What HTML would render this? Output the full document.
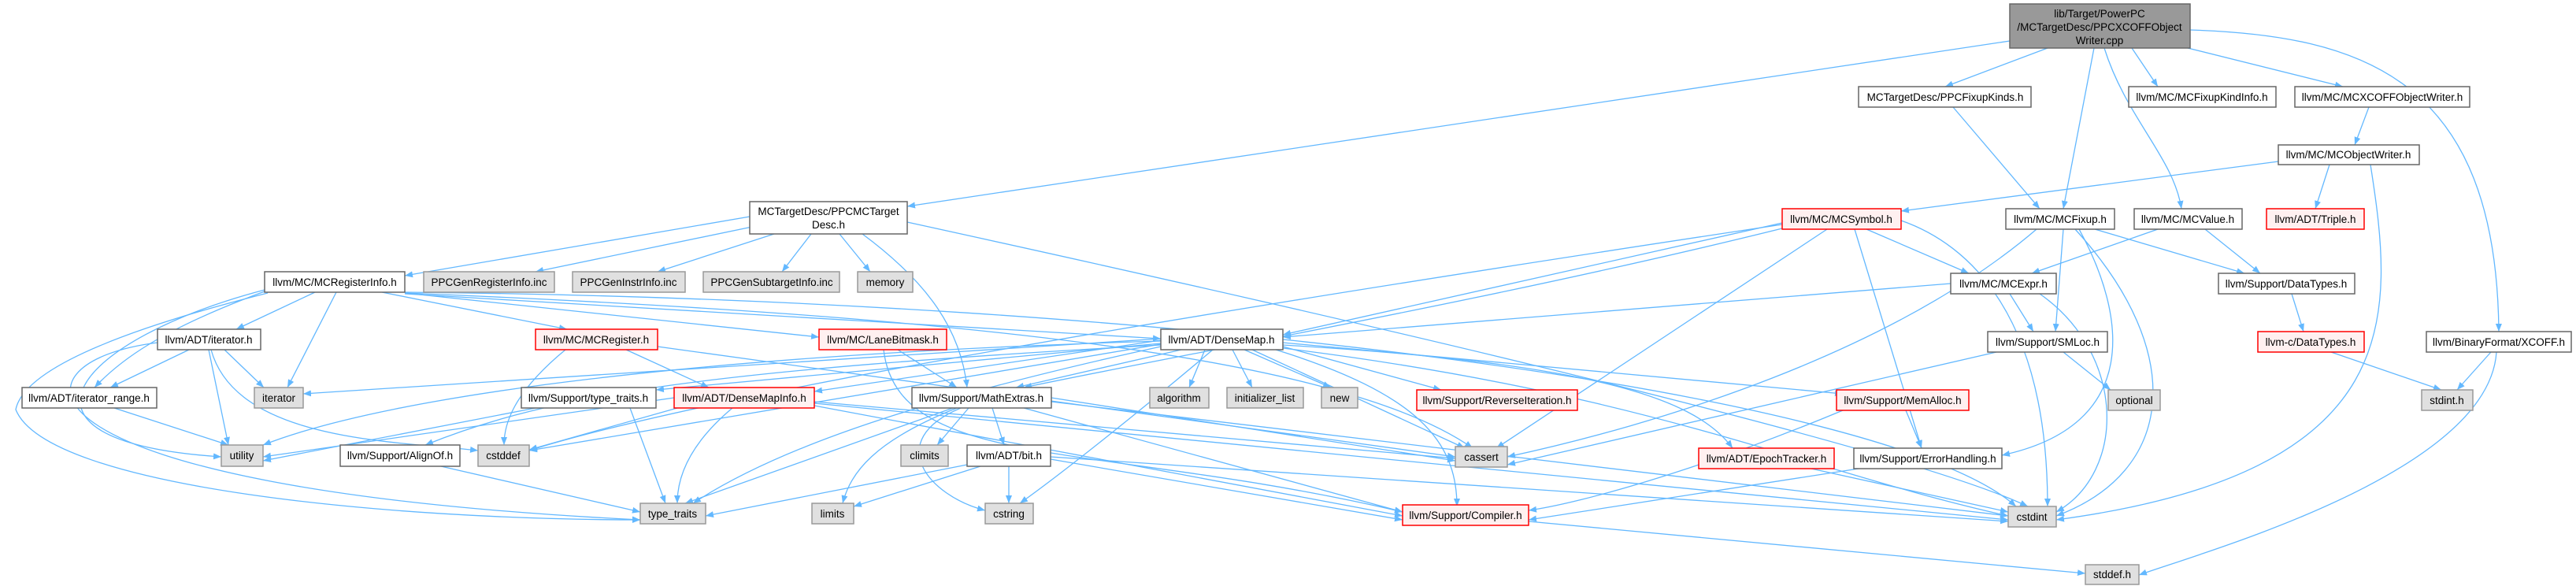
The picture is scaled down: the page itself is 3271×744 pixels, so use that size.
<!DOCTYPE html>
<html><head><meta charset="utf-8"><style>
html,body{margin:0;padding:0;background:#fff;}
svg{display:block;}
text{font-family:"Liberation Sans",Arial,sans-serif;font-size:13.5px;fill:#000;}
.w{fill:#fff;stroke:#666;stroke-width:1.5}
.g{fill:#e0e0e0;stroke:#999;stroke-width:1.5}
.r{fill:#fff0f0;stroke:#f00;stroke-width:1.5}
.m{fill:#999;stroke:#666;stroke-width:1.5}
path.e{fill:none;stroke:#63b8ff;stroke-width:1.3;marker-end:url(#a)}
</style></head><body>
<svg width="3271" height="744" viewBox="0 0 3271 744" xmlns="http://www.w3.org/2000/svg">
<defs><marker id="a" viewBox="0 0 10 10" refX="10" refY="5" markerWidth="10" markerHeight="10" markerUnits="userSpaceOnUse" orient="auto"><path d="M0,1 L10,5 L0,9 z" fill="#63b8ff"/></marker></defs>
<g>
<path class="e" d="M2552,52 L1152,262"/>
<path class="e" d="M2600,61 L2470,110"/>
<path class="e" d="M2659,61 L2620,265"/>
<path class="e" d="M2707,61 L2740,110"/>
<path class="e" d="M2672,61 C2700,150 2760,200 2770,265"/>
<path class="e" d="M2778,61 L2975,110"/>
<path class="e" d="M2781,38 C3000,45 3170,100 3173,421"/>
<path class="e" d="M2480,136 L2590,265"/>
<path class="e" d="M3008,136 L2990,184"/>
<path class="e" d="M2893,205 L2414,268"/>
<path class="e" d="M2958,209 L2940,265"/>
<path class="e" d="M3010,209 C3040,400 3060,600 2611,660"/>
<path class="e" d="M2263,283 L1629,425"/>
<path class="e" d="M2263,290 C1900,380 1500,450 1300,492"/>
<path class="e" d="M2370,291 L2500,347"/>
<path class="e" d="M2320,291 L1900,569"/>
<path class="e" d="M2355,291 L2440,569"/>
<path class="e" d="M2414,280 C2500,310 2600,400 2600,643"/>
<path class="e" d="M2263,285 C1500,400 900,500 672,572"/>
<path class="e" d="M2586,291 C2400,450 2100,540 1914,580"/>
<path class="e" d="M2620,291 L2610,421"/>
<path class="e" d="M2660,291 L2850,347"/>
<path class="e" d="M2640,291 C2700,400 2720,540 2542,578"/>
<path class="e" d="M2635,291 C2780,450 2760,600 2611,655"/>
<path class="e" d="M2740,291 L2580,347"/>
<path class="e" d="M2800,291 L2870,347"/>
<path class="e" d="M2477,360 L1629,428"/>
<path class="e" d="M2552,373 L2582,421"/>
<path class="e" d="M2590,373 C2700,450 2700,600 2611,650"/>
<path class="e" d="M2910,373 L2925,421"/>
<path class="e" d="M2960,447 L3100,495"/>
<path class="e" d="M3163,447 L3120,495"/>
<path class="e" d="M3170,447 C3160,600 2800,700 2716,730"/>
<path class="e" d="M2620,447 L2680,495"/>
<path class="e" d="M2535,447 L1914,590"/>
<path class="e" d="M2420,521 L2440,569"/>
<path class="e" d="M2340,521 C2150,600 2000,640 1941,648"/>
<path class="e" d="M2360,595 L1941,660"/>
<path class="e" d="M2300,595 L2550,650"/>
<path class="e" d="M1941,662 L2648,728"/>
<path class="e" d="M952,275 L514,350"/>
<path class="e" d="M955,288 L680,345"/>
<path class="e" d="M983,297 L835,345"/>
<path class="e" d="M1030,297 L993,345"/>
<path class="e" d="M1066,297 L1105,345"/>
<path class="e" d="M1095,297 C1180,360 1220,420 1228,492"/>
<path class="e" d="M1152,282 C1600,380 2400,560 2575,643"/>
<path class="e" d="M400,371 L300,418"/>
<path class="e" d="M427,371 L365,492"/>
<path class="e" d="M336,370 C200,420 150,460 120,492"/>
<path class="e" d="M336,368 C100,430 -20,560 281,580"/>
<path class="e" d="M340,372 C150,420 30,470 20,520 C60,620 500,660 813,660"/>
<path class="e" d="M485,371 L720,418"/>
<path class="e" d="M514,372 L1040,428"/>
<path class="e" d="M514,373 L1474,430"/>
<path class="e" d="M514,372 C1200,400 1700,450 1870,569"/>
<path class="e" d="M514,371 C1500,380 2400,500 2560,643"/>
<path class="e" d="M240,444 L140,492"/>
<path class="e" d="M285,444 L335,492"/>
<path class="e" d="M265,444 L290,565"/>
<path class="e" d="M268,444 C300,560 500,560 607,572"/>
<path class="e" d="M200,435 C0,460 0,620 813,660"/>
<path class="e" d="M145,518 L290,565"/>
<path class="e" d="M795,444 L900,492"/>
<path class="e" d="M718,444 C650,500 640,540 640,565"/>
<path class="e" d="M835,440 L1848,580"/>
<path class="e" d="M1140,444 L1215,492"/>
<path class="e" d="M1122,444 C1140,600 1400,560 1781,650"/>
<path class="e" d="M1474,432 L1034,497"/>
<path class="e" d="M1500,444 L1290,492"/>
<path class="e" d="M1530,444 L1510,492"/>
<path class="e" d="M1565,444 L1590,492"/>
<path class="e" d="M1580,444 L1690,492"/>
<path class="e" d="M1629,440 L1830,495"/>
<path class="e" d="M1629,435 L2340,500"/>
<path class="e" d="M1629,438 C2000,460 2150,500 2200,569"/>
<path class="e" d="M1590,444 L1860,569"/>
<path class="e" d="M1540,444 C1450,520 1350,600 1295,639"/>
<path class="e" d="M1620,444 C1800,500 1850,560 1850,643"/>
<path class="e" d="M1474,438 C900,470 700,500 540,565"/>
<path class="e" d="M1474,436 L833,495"/>
<path class="e" d="M1474,433 C900,450 500,500 334,565"/>
<path class="e" d="M1474,430 L385,500"/>
<path class="e" d="M1474,440 C1200,500 1000,560 880,639"/>
<path class="e" d="M1474,437 L672,572"/>
<path class="e" d="M1629,442 C2100,500 2300,600 2550,655"/>
<path class="e" d="M1034,510 L1848,582"/>
<path class="e" d="M860,518 L672,571"/>
<path class="e" d="M930,518 C880,560 860,600 860,639"/>
<path class="e" d="M856,505 L334,580"/>
<path class="e" d="M1034,512 L2550,660"/>
<path class="e" d="M1034,515 L1781,655"/>
<path class="e" d="M800,518 L845,639"/>
<path class="e" d="M680,518 L334,585"/>
<path class="e" d="M560,592 L813,650"/>
<path class="e" d="M1260,518 L1275,565"/>
<path class="e" d="M1230,518 L1190,565"/>
<path class="e" d="M1215,518 C1110,560 1080,600 1070,639"/>
<path class="e" d="M1220,518 C1120,560 1180,630 1251,648"/>
<path class="e" d="M1210,518 L870,639"/>
<path class="e" d="M1335,505 L1848,585"/>
<path class="e" d="M1300,518 L1781,650"/>
<path class="e" d="M1335,510 L2550,655"/>
<path class="e" d="M1245,592 L1084,643"/>
<path class="e" d="M1228,590 L896,655"/>
<path class="e" d="M1281,592 L1281,639"/>
<path class="e" d="M1334,583 L1781,660"/>
<path class="e" d="M1334,580 L2550,662"/>
</g>
<g text-anchor="middle">
<rect class="m" x="2552" y="5" width="229" height="56"/><text x="2666" y="22">lib/Target/PowerPC</text><text x="2666" y="39">/MCTargetDesc/PPCXCOFFObject</text><text x="2666" y="56">Writer.cpp</text>
<rect class="w" x="2360" y="110" width="219" height="26"/><text x="2470" y="128">MCTargetDesc/PPCFixupKinds.h</text>
<rect class="w" x="2703" y="110" width="187" height="26"/><text x="2796" y="128">llvm/MC/MCFixupKindInfo.h</text>
<rect class="w" x="2914" y="110" width="222" height="26"/><text x="3025" y="128">llvm/MC/MCXCOFFObjectWriter.h</text>
<rect class="w" x="2893" y="184" width="179" height="25"/><text x="2982" y="201">llvm/MC/MCObjectWriter.h</text>
<rect class="w" x="952" y="256" width="200" height="41"/><text x="1052" y="273">MCTargetDesc/PPCMCTarget</text><text x="1052" y="290">Desc.h</text>
<rect class="r" x="2263" y="265" width="151" height="26"/><text x="2338" y="283">llvm/MC/MCSymbol.h</text>
<rect class="w" x="2547" y="265" width="138" height="26"/><text x="2616" y="283">llvm/MC/MCFixup.h</text>
<rect class="w" x="2710" y="265" width="137" height="26"/><text x="2778" y="283">llvm/MC/MCValue.h</text>
<rect class="r" x="2878" y="265" width="124" height="26"/><text x="2940" y="283">llvm/ADT/Triple.h</text>
<rect class="w" x="336" y="345" width="178" height="26"/><text x="425" y="363">llvm/MC/MCRegisterInfo.h</text>
<rect class="g" x="538" y="345" width="166" height="26"/><text x="621" y="363">PPCGenRegisterInfo.inc</text>
<rect class="g" x="727" y="345" width="143" height="26"/><text x="798" y="363">PPCGenInstrInfo.inc</text>
<rect class="g" x="893" y="345" width="173" height="26"/><text x="980" y="363">PPCGenSubtargetInfo.inc</text>
<rect class="g" x="1089" y="345" width="70" height="26"/><text x="1124" y="363">memory</text>
<rect class="w" x="2477" y="347" width="134" height="26"/><text x="2544" y="365">llvm/MC/MCExpr.h</text>
<rect class="w" x="2817" y="347" width="173" height="26"/><text x="2903" y="365">llvm/Support/DataTypes.h</text>
<rect class="w" x="200" y="418" width="131" height="26"/><text x="265" y="436">llvm/ADT/iterator.h</text>
<rect class="r" x="680" y="418" width="155" height="26"/><text x="757" y="436">llvm/MC/MCRegister.h</text>
<rect class="r" x="1040" y="418" width="162" height="26"/><text x="1121" y="436">llvm/MC/LaneBitmask.h</text>
<rect class="w" x="1474" y="418" width="155" height="26"/><text x="1551" y="436">llvm/ADT/DenseMap.h</text>
<rect class="w" x="2524" y="421" width="152" height="26"/><text x="2600" y="439">llvm/Support/SMLoc.h</text>
<rect class="r" x="2867" y="421" width="135" height="26"/><text x="2934" y="439">llvm-c/DataTypes.h</text>
<rect class="w" x="3081" y="421" width="184" height="26"/><text x="3173" y="439">llvm/BinaryFormat/XCOFF.h</text>
<rect class="w" x="28" y="492" width="171" height="26"/><text x="113" y="510">llvm/ADT/iterator_range.h</text>
<rect class="g" x="323" y="492" width="62" height="26"/><text x="354" y="510">iterator</text>
<rect class="w" x="662" y="492" width="171" height="26"/><text x="747" y="510">llvm/Support/type_traits.h</text>
<rect class="r" x="856" y="492" width="178" height="26"/><text x="945" y="510">llvm/ADT/DenseMapInfo.h</text>
<rect class="w" x="1158" y="492" width="177" height="26"/><text x="1246" y="510">llvm/Support/MathExtras.h</text>
<rect class="g" x="1460" y="492" width="75" height="26"/><text x="1497" y="510">algorithm</text>
<rect class="g" x="1558" y="492" width="97" height="26"/><text x="1606" y="510">initializer_list</text>
<rect class="g" x="1678" y="492" width="46" height="26"/><text x="1701" y="510">new</text>
<rect class="r" x="1799" y="495" width="204" height="26"/><text x="1901" y="513">llvm/Support/ReverseIteration.h</text>
<rect class="r" x="2332" y="495" width="168" height="26"/><text x="2416" y="513">llvm/Support/MemAlloc.h</text>
<rect class="g" x="2677" y="495" width="66" height="26"/><text x="2710" y="513">optional</text>
<rect class="g" x="3075" y="495" width="65" height="26"/><text x="3107" y="513">stdint.h</text>
<rect class="g" x="281" y="565" width="53" height="27"/><text x="307" y="583">utility</text>
<rect class="w" x="432" y="565" width="152" height="27"/><text x="508" y="583">llvm/Support/AlignOf.h</text>
<rect class="g" x="607" y="565" width="65" height="27"/><text x="639" y="583">cstddef</text>
<rect class="g" x="1144" y="565" width="60" height="27"/><text x="1174" y="583">climits</text>
<rect class="w" x="1228" y="565" width="106" height="27"/><text x="1281" y="583">llvm/ADT/bit.h</text>
<rect class="g" x="1848" y="567" width="66" height="26"/><text x="1881" y="585">cassert</text>
<rect class="r" x="2157" y="569" width="172" height="26"/><text x="2243" y="587">llvm/ADT/EpochTracker.h</text>
<rect class="w" x="2354" y="569" width="188" height="26"/><text x="2448" y="587">llvm/Support/ErrorHandling.h</text>
<rect class="g" x="813" y="639" width="83" height="26"/><text x="854" y="657">type_traits</text>
<rect class="g" x="1031" y="639" width="53" height="26"/><text x="1057" y="657">limits</text>
<rect class="g" x="1251" y="639" width="61" height="26"/><text x="1281" y="657">cstring</text>
<rect class="r" x="1781" y="641" width="160" height="26"/><text x="1861" y="659">llvm/Support/Compiler.h</text>
<rect class="g" x="2550" y="643" width="61" height="26"/><text x="2580" y="661">cstdint</text>
<rect class="g" x="2648" y="717" width="68" height="25"/><text x="2682" y="734">stddef.h</text>
</g>
</svg>
</body></html>
